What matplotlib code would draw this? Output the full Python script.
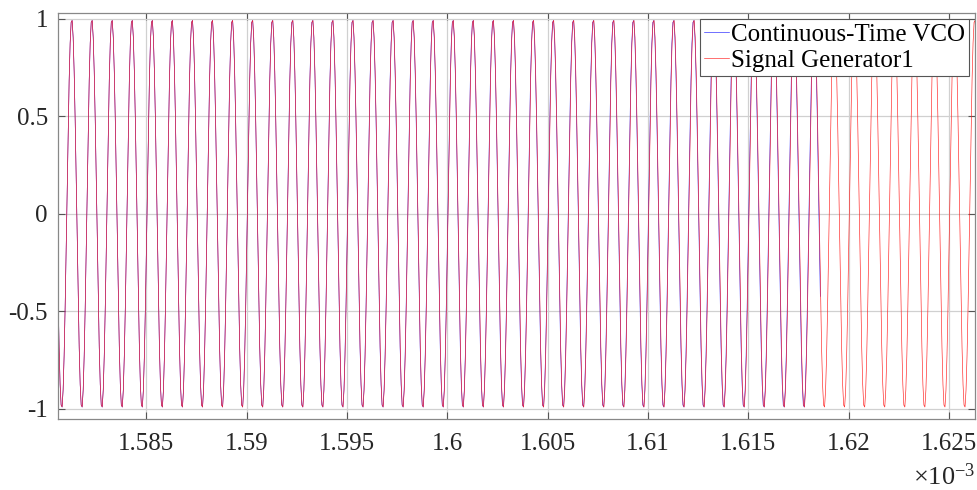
import numpy as np
import matplotlib
matplotlib.use("Agg")
import matplotlib.pyplot as plt
from matplotlib.ticker import MultipleLocator, FuncFormatter

plt.rcParams['font.family'] = ['Liberation Serif', 'DejaVu Serif']
plt.rcParams['axes.unicode_minus'] = False
plt.rcParams['mathtext.fontset'] = 'custom'
plt.rcParams['mathtext.rm'] = 'Liberation Serif'

# signal parameters (1 MHz carrier)
series_names = ['Continuous-Time VCO', 'Signal Generator1']
series_colors = ['#2020ff', '#ff2020']
freq_hz = [1.0003e6, 1.0e6]          # VCO drifts a little
first_peak_s = [1.58128e-3, 1.58128e-3]
t_start_s = [1.5805e-3, 1.5805e-3]
t_stop_s = [1.6186e-3, 1.6270e-3]    # VCO trace ends before the right edge
samples_per_cycle = 20

xlim = (1.58058e-3, 1.62630e-3)
ylim = (-1.056, 1.029)
yticks = [-1, -0.5, 0, 0.5, 1]

fig = plt.figure(figsize=(9.78, 4.90), dpi=100)
ax = fig.add_axes([0.059, 0.144, 0.938, 0.829])

for name, col, f, tp, t0, t1 in zip(series_names, series_colors, freq_hz,
                                     first_peak_s, t_start_s, t_stop_s):
    t = np.arange(t0, t1, 1.0 / (f * samples_per_cycle))
    y = np.cos(2 * np.pi * f * (t - tp))
    ax.plot(t, y, color=col, lw=0.45, label=name)

ax.set_xlim(*xlim)
ax.set_ylim(*ylim)
ax.xaxis.set_major_locator(MultipleLocator(5e-6))
ax.xaxis.set_major_formatter(FuncFormatter(lambda v, p: '%g' % round(v * 1e3, 4)))
ax.set_yticks(yticks)
ax.set_yticklabels(['%g' % v for v in yticks])
ax.grid(True, color='#d0d0d0', lw=0.9)
ax.tick_params(direction='in', top=True, right=True, length=5, width=0.8,
               color='#555555', labelsize=18, labelcolor='#262626')
ax.tick_params(axis='x', pad=10)
ax.tick_params(axis='y', pad=7)
for s in ax.spines.values():
    s.set_color('#888888')
    s.set_linewidth(0.9)

ax.text(1.0, -0.14, r'$\times\mathregular{10^{-3}}$', transform=ax.transAxes,
        ha='right', va='center', fontsize=19, color='#262626')

leg = ax.legend(loc='upper right', fontsize=18, handlelength=1.0, handletextpad=0.1,
                borderpad=0.15, labelspacing=0.15, borderaxespad=0.25, fancybox=False,
                framealpha=1, edgecolor='#555555')
leg.get_frame().set_linewidth(0.8)

fig.savefig('out.png', dpi=100)
